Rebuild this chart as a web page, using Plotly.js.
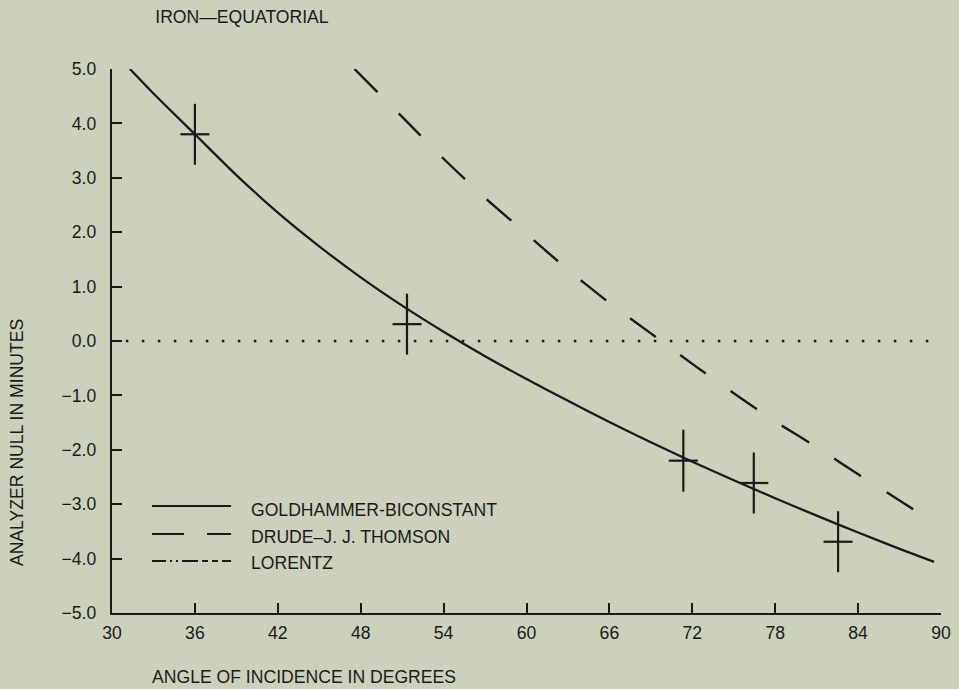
<!DOCTYPE html>
<html>
<head>
<meta charset="utf-8">
<script src="https://cdn.plot.ly/plotly-3.0.1.min.js"></script>
<style>
  html, body { margin: 0; padding: 0; background: #ccd1bc; }
  #chart { width: 959px; height: 689px; }
</style>
</head>
<body>
<div id="chart"></div>
<script>
// ---- Data ----
const chartTitle = "IRON\u2014EQUATORIAL";
const xTitle = "ANGLE OF INCIDENCE IN DEGREES";
const yTitle = "ANALYZER NULL IN MINUTES";

const xTickVals = [30, 36, 42, 48, 54, 60, 66, 72, 78, 84, 90];
const yTickVals = [-5, -4, -3, -2, -1, 0, 1, 2, 3, 4, 5];

const seriesNames = ["GOLDHAMMER-BICONSTANT", "DRUDE\u2013J. J. THOMSON", "LORENTZ"];

// Goldhammer-biconstant (solid)
const goldX = [31.3, 33, 36, 39, 42, 45, 48, 51, 54, 57, 60, 63, 66, 69, 72, 75, 78, 81, 84, 87, 89.5];
const goldY = [5.0, 4.55, 3.80, 3.05, 2.36, 1.74, 1.17, 0.65, 0.17, -0.28, -0.70, -1.10, -1.49, -1.86, -2.22, -2.56, -2.89, -3.21, -3.52, -3.82, -4.06];

// Drude-J. J. Thomson (dashed)
const drudeX = [47.55, 51, 54, 57, 60, 63, 66, 69, 72, 75, 78, 81, 84, 87, 89.0];
const drudeY = [5.0, 4.12, 3.35, 2.63, 1.97, 1.31, 0.70, 0.14, -0.42, -0.96, -1.48, -1.95, -2.45, -2.93, -3.26];

// Measured points (crosses)
const measX = [36.0, 51.35, 71.35, 76.45, 82.55];
const measY = [3.80, 0.31, -2.20, -2.61, -3.69];
const measErrX = [1.05, 1.05, 1.05, 1.05, 1.05];
const measErrY = [0.56, 0.56, 0.57, 0.56, 0.56];

// Zero reference (dotted)
const zeroX = [31, 90];
const zeroY = [0, 0];

// ---- Styling ----
const ink = "#1a1a1a";
const bg = "#ccd1bc";
const fontFam = "'Liberation Sans', Arial, Helvetica, sans-serif";
const fs = 17.6;

const traces = [
  { x: zeroX, y: zeroY, mode: "lines", line: { color: ink, width: 2.5, dash: "2.5px,13.5px" }, showlegend: false, hoverinfo: "skip" },
  { x: goldX, y: goldY, mode: "lines", name: seriesNames[0], line: { color: ink, width: 2.3, shape: "spline", smoothing: 0.6 }, showlegend: false },
  { x: drudeX, y: drudeY, mode: "lines", name: seriesNames[1], line: { color: ink, width: 2.4, dash: "32px,30px", shape: "spline", smoothing: 0.6 }, showlegend: false },
  { x: measX, y: measY, mode: "markers", name: "measured", marker: { size: 2, color: ink },
    error_x: { type: "data", array: measErrX, visible: true, width: 0, thickness: 2.2, color: ink },
    error_y: { type: "data", array: measErrY, visible: true, width: 0, thickness: 2.2, color: ink },
    showlegend: false }
];

// Legend drawn in paper coordinates
const legY = [0.1967, 0.1452, 0.0956];
const legTextY = [0.190, 0.140, 0.091];
const legDash = ["solid", "32px,23px", "14px,4px,2px,4px,2px,4px,16px,4px,6px,4px,6px,4px"];
const legX0 = 0.0483, legX1 = 0.1437, legTextX = 0.1655;

const shapes = legY.map((yy, i) => ({
  type: "line", xref: "paper", yref: "paper",
  x0: legX0, x1: legX1, y0: yy, y1: yy,
  line: { color: ink, width: 2.2, dash: legDash[i] }
}));

const annotations = seriesNames.map((nm, i) => ({
  text: nm, xref: "paper", yref: "paper", x: legTextX, y: legTextY[i],
  xanchor: "left", yanchor: "middle", showarrow: false,
  font: { family: fontFam, size: fs, color: ink }
}));
annotations.push({
  text: xTitle, xref: "paper", yref: "paper", x: 0.2319, y: -0.117,
  xanchor: "center", yanchor: "middle", showarrow: false,
  font: { family: fontFam, size: fs, color: ink }
});
annotations.push({
  text: yTitle, xref: "paper", yref: "paper", x: -0.1145, y: 0.3125,
  xanchor: "center", yanchor: "middle", showarrow: false, textangle: -90,
  font: { family: fontFam, size: fs, color: ink }
});

const layout = {
  width: 959, height: 689,
  paper_bgcolor: bg, plot_bgcolor: bg,
  margin: { l: 112, r: 18, t: 69, b: 76 },
  font: { family: fontFam, size: fs, color: ink },
  title: { text: chartTitle, x: 0.2523, xanchor: "center", xref: "container",
           y: 0.976, yanchor: "middle", yref: "container",
           font: { family: fontFam, size: fs, color: ink } },
  xaxis: {
    range: [30, 90], tickvals: xTickVals, ticktext: xTickVals.map(String),
    showline: true, linecolor: ink, linewidth: 2.2,
    ticks: "inside", ticklen: 10, tickwidth: 2, tickcolor: ink,
    showgrid: false, zeroline: false, ticklabelstandoff: 3,
    tickfont: { family: fontFam, size: fs, color: ink }
  },
  yaxis: {
    range: [-5, 5], tickvals: yTickVals, tickformat: ".1f",
    showline: true, linecolor: ink, linewidth: 2.2,
    ticks: "inside", ticklen: 10, tickwidth: 2, tickcolor: ink,
    showgrid: false, zeroline: false, ticklabelstandoff: 10,
    tickfont: { family: fontFam, size: fs, color: ink }
  },
  shapes: shapes,
  annotations: annotations,
  showlegend: false
};

Plotly.newPlot("chart", traces, layout, { staticPlot: true, displayModeBar: false });
</script>
</body>
</html>
